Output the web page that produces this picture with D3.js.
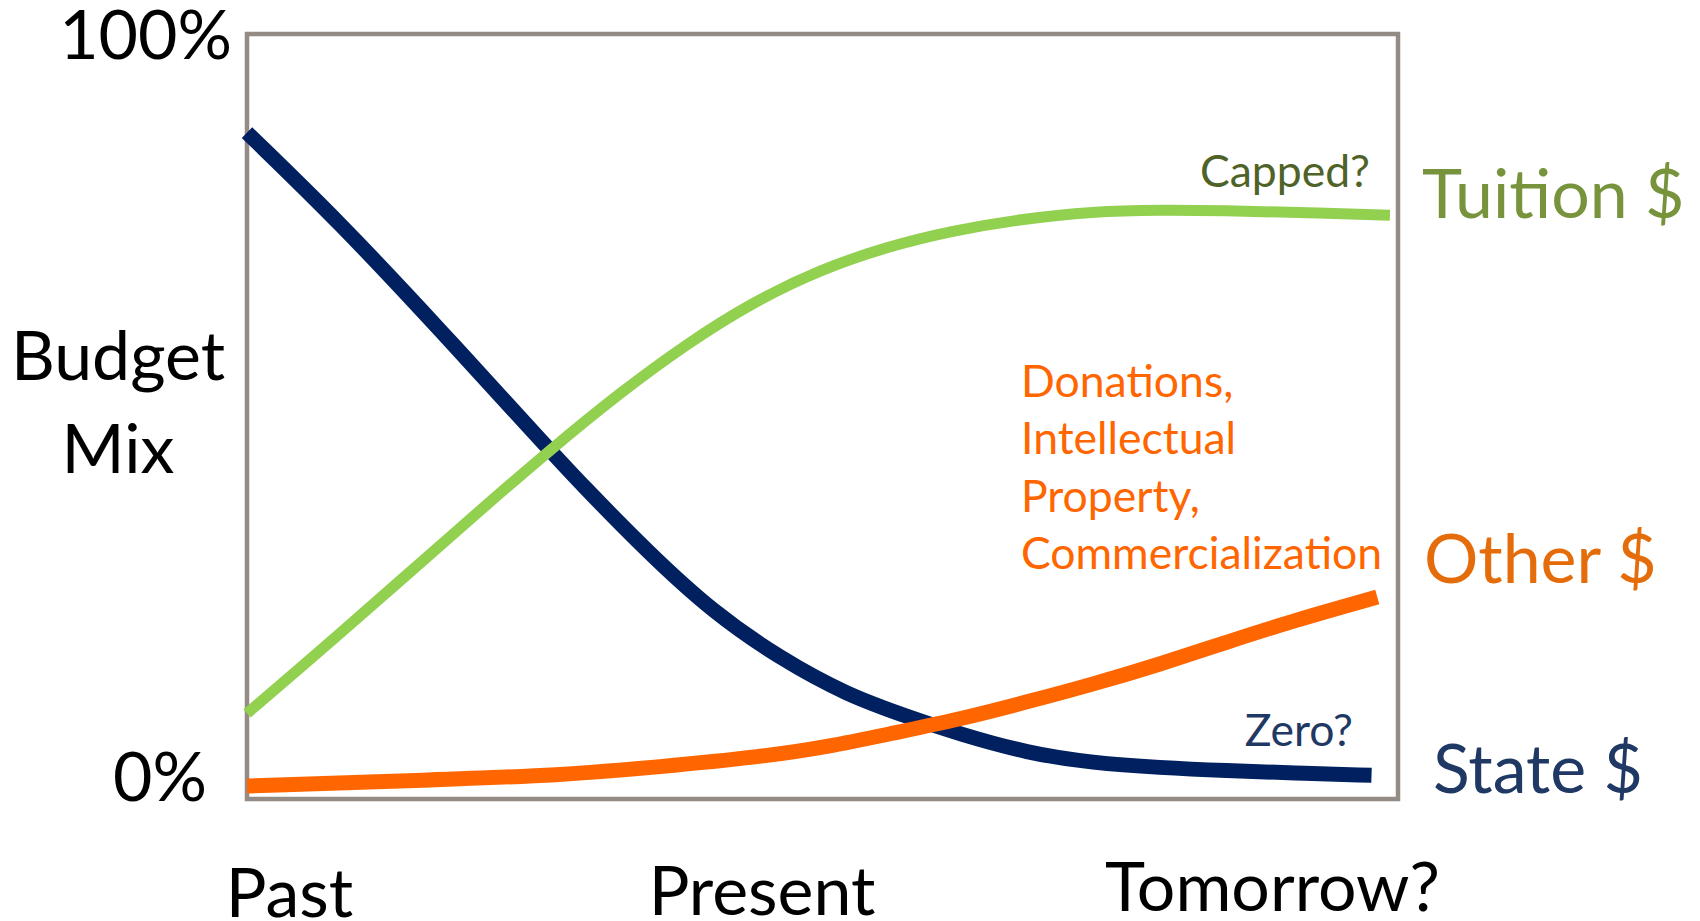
<!DOCTYPE html>
<html>
<head>
<meta charset="utf-8">
<script src="https://cdn.jsdelivr.net/npm/d3@7"></script>
<style>
  body { margin: 0; background: #fff; }
  svg text { font-family: Lato, "Open Sans", sans-serif; }
</style>
</head>
<body>
<div id="chart"></div>
<script>
// budget mix over time (share of budget in %, time 0-100 across the box)
const timeTicks = [3.65, 44.7, 89.05]
const timeLabels = ["Past", "Present", "Tomorrow?"]
const pctTicks = [0, 100]

const stateT = [0, 8.1, 16.8, 26.3, 28.9, 34.8, 40.5, 46.3, 52.1, 57.9, 61.9, 67.8, 73.5, 79.3, 85.1, 90.9, 97.7]
const stateV = [87.1, 75.3, 61.3, 45.6, 41.4, 32.3, 24.4, 18.4, 13.6, 10.5, 8.5, 6.0, 4.7, 4.1, 3.7, 3.4, 3.1]

const tuitionT = [0, 6.8, 19.6, 26.3, 32.4, 38.2, 44.0, 49.8, 55.6, 61.3, 67.2, 73.5, 79.3, 85.1, 90.9, 99.3]
const tuitionV = [11.2, 19.9, 36.9, 45.6, 53.1, 59.5, 65.0, 69.2, 72.2, 74.3, 75.8, 76.8, 77.0, 76.9, 76.7, 76.3]

const otherT = [0, 16.2, 27.2, 35.9, 44.6, 50.4, 56.1, 61.9, 67.8, 73.5, 79.3, 85.1, 90.9, 98.2]
const otherV = [1.7, 2.5, 3.1, 4.2, 5.5, 6.8, 8.6, 10.4, 12.7, 15.0, 17.6, 20.5, 23.3, 26.4]

const seriesNames = ["State $", "Tuition $", "Other $"]
const seriesLabelPct = [0.8, 75.9, 28.2]
const otherNote = ["Donations,", "Intellectual", "Property,", "Commercialization"]

// sizes
const width = 1700
const height = 921
const margin = {left: 247, top: 34}
const plotW = 1151
const plotH = 765
const bigFont = 68
const smallFont = 44.5

const x = d3.scaleLinear().domain([0, 100]).range([0, plotW])
const y = d3.scaleLinear().domain([0, 100]).range([plotH, 0])

var svg = d3.select("#chart")
            .append("svg")
            .attr("width", width)
            .attr("height", height)

var g = svg.append("g")
           .attr("transform", "translate(" + margin.left + "," + margin.top + ")")

// frame
g.append("rect")
 .attr("width", plotW)
 .attr("height", plotH)
 .attr("fill", "none")
 .attr("stroke", "#948c84")
 .attr("stroke-width", 4.5)

// y axis: just 0% and 100%
var yAxis = g.append("g")
             .call(d3.axisLeft(y).tickValues(pctTicks).tickFormat(d => d + "%").tickSize(0))
yAxis.select(".domain").remove()
yAxis.selectAll("text")
     .attr("font-size", bigFont)
     .attr("fill", "#000")
     .attr("dy", null)
     .attr("x", d => d === 100 ? -15 : -40)
     .attr("y", d => d === 100 ? 24 : 1)

// x axis: past / present / tomorrow
var xAxis = g.append("g")
             .attr("transform", "translate(0," + plotH + ")")
             .call(d3.axisBottom(x).tickValues(timeTicks).tickFormat((d, i) => timeLabels[i]).tickSize(0))
xAxis.select(".domain").remove()
xAxis.selectAll("text")
     .attr("font-size", bigFont)
     .attr("fill", "#000")
     .attr("dy", null)
     .attr("y", (d, i) => [118, 116, 112][i])

// y title
g.append("text")
 .attr("text-anchor", "middle")
 .attr("font-size", bigFont)
 .selectAll("tspan")
 .data(["Budget", "Mix"])
 .enter()
 .append("tspan")
 .attr("x", -129)
 .attr("y", (d, i) => 346 + i * 93)
 .text(d => d)

// the three lines - basis curve smooths out reading noise
var line = d3.line()
             .x(d => x(d[0]))
             .y(d => y(d[1]))
             .curve(d3.curveBasis)

var lines = [
  {name: "state", pts: d3.zip(stateT, stateV), color: "#002060", w: 15},
  {name: "tuition", pts: d3.zip(tuitionT, tuitionV), color: "#92d050", w: 11},
  {name: "other", pts: d3.zip(otherT, otherV), color: "#ff6600", w: 15}
]

g.selectAll("path.series")
 .data(lines)
 .enter()
 .append("path")
 .attr("class", "series")
 .attr("d", d => line(d.pts))
 .attr("fill", "none")
 .attr("stroke", d => d.color)
 .attr("stroke-width", d => d.w)
 .attr("stroke-linecap", "butt")

// series names right of the box
var nameColors = ["#1f3864", "#77933c", "#e46c0a"]
var nameDx = [35, 24, 26]
g.selectAll("text.name")
 .data(seriesNames)
 .enter()
 .append("text")
 .attr("class", "name")
 .attr("x", (d, i) => plotW + nameDx[i])
 .attr("y", (d, i) => y(seriesLabelPct[i]))
 .attr("font-size", bigFont)
 .attr("fill", (d, i) => nameColors[i])
 .text(d => d)

// little notes inside the box
g.append("text")
 .attr("x", 1370 - margin.left)
 .attr("y", 187 - margin.top)
 .attr("text-anchor", "end")
 .attr("font-size", smallFont)
 .attr("fill", "#4f6228")
 .text("Capped?")

g.append("text")
 .attr("x", 1353 - margin.left)
 .attr("y", 746 - margin.top)
 .attr("text-anchor", "end")
 .attr("font-size", smallFont)
 .attr("fill", "#1f3864")
 .text("Zero?")

g.append("text")
 .attr("font-size", smallFont)
 .attr("fill", "#ff6600")
 .selectAll("tspan")
 .data(otherNote)
 .enter()
 .append("tspan")
 .attr("x", 1021 - margin.left)
 .attr("y", (d, i) => 397 - margin.top + i * 57.3)
 .text(d => d)
</script>
</body>
</html>
